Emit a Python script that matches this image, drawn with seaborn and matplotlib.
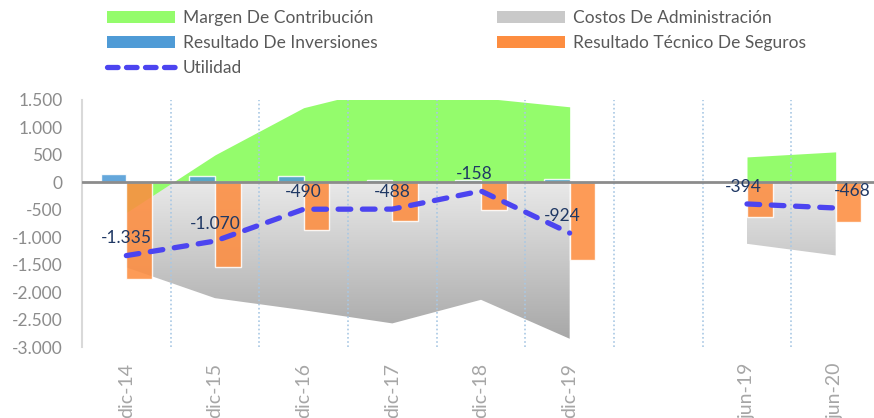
import numpy as np
import pandas as pd
import matplotlib
matplotlib.use("Agg")
import matplotlib.pyplot as plt
import seaborn as sns
from matplotlib.patches import Patch
from matplotlib.lines import Line2D
from matplotlib.ticker import FuncFormatter, FixedLocator
from matplotlib.colors import LinearSegmentedColormap

# ---------------- data ----------------
categories = ['dic-14', 'dic-15', 'dic-16', 'dic-17', 'dic-18', 'dic-19', '', 'jun-19', 'jun-20']
margen = [-550, 500, 1360, 1760, 1540, 1376, np.nan, 463, 555]
costos = [-1550, -2110, -2330, -2570, -2140, -2850, np.nan, -1120, -1332]
inversiones = [150, 110, 110, 50, 50, 65, np.nan, 0, 0]
tecnico = [-1757, -1544, -869, -705, -498, -1411, np.nan, -632, -730]
utilidad = [-1335, -1070, -490, -488, -158, -924, np.nan, -394, -468]
yticks = [-3000, -2500, -2000, -1500, -1000, -500, 0, 500, 1000, 1500]

names = ['Margen De Contribución', 'Costos De Administración', 'Resultado De Inversiones',
         'Resultado Técnico De Seguros', 'Utilidad']

# ---------------- style ----------------
sns.set_theme(style="white")
plt.rcParams['font.family'] = ['Lato', 'DejaVu Sans']

GREEN = '#94fc6c'
BLUE = '#4f9bd6'
ORANGE = '#fd8d40'
LINE = '#4c44f0'
LABEL = '#1f3864'

fig = plt.figure(figsize=(8.74, 4.18), dpi=100)
ax = fig.add_axes([82 / 874, (418 - 347) / 418, 798 / 874, (347 - 100) / 418])

x = np.arange(len(categories))
segments = [(0, 6), (7, 9)]

# gray gradient area (Costos)
cmap = LinearSegmentedColormap.from_list('g', ['#e9e9e9', '#a4a4a4'])
grad = np.linspace(0, 1, 256).reshape(-1, 1)
for a, b in segments:
    xs = x[a:b]
    ys = np.array(costos[a:b], dtype=float)
    poly = ax.fill_between(xs, 0, ys, color='none', lw=0)
    path = poly.get_paths()[0]
    im = ax.imshow(grad, extent=[-0.5, 8.5, -3000, 0], aspect='auto', cmap=cmap,
                   origin='upper', zorder=1)
    im.set_clip_path(path, transform=ax.transData)

# green area (Margen)
for a, b in segments:
    ax.fill_between(x[a:b], 0, np.array(margen[a:b], dtype=float), color=GREEN, lw=0, zorder=2)

# separators
for bnd in np.arange(0.5, 8.5, 1.0):
    ax.axvline(bnd, color='#a9c8e4', ls=(0, (1, 1.5)), lw=1.2, zorder=2.5)

# bars
df = pd.DataFrame({
    'pos': np.concatenate([x, x]),
    'valor': np.concatenate([inversiones, tecnico]),
    'serie': ['inv'] * len(x) + ['tec'] * len(x),
}).dropna()
sns.barplot(data=df, x='pos', y='valor', hue='serie', hue_order=['inv', 'tec'],
            palette=[BLUE, ORANGE], width=0.58, native_scale=True, errorbar=None,
            legend=False, saturation=1, alpha=0.88, ax=ax, zorder=3)

ax.axhline(0, color='#8c8c8c', lw=2, zorder=3.5)

# line (Utilidad)
for a, b in segments:
    seg = pd.DataFrame({'pos': x[a:b], 'val': utilidad[a:b]})
    sns.lineplot(data=seg, x='pos', y='val', ax=ax, color=LINE, lw=3.8,
                 linestyle=(0, (2.4, 2.2)), dash_capstyle='round', zorder=4)

label_dx = [0, 0, 0, 0, -5, -5, 0, -3, 12]
for i, v in enumerate(utilidad):
    if np.isnan(v):
        continue
    ax.annotate(f"{int(v):,}".replace(',', '.'), (i, v), xytext=(label_dx[i], 12.5),
                textcoords='offset points', ha='center', va='center',
                fontsize=12.5, color=LABEL, zorder=5)

# axes
ax.set_xlim(-0.5, 8.5)
ax.set_ylim(-3000, 1500)
ax.yaxis.set_major_locator(FixedLocator(yticks))
ax.yaxis.set_major_formatter(FuncFormatter(lambda v, p: f"{int(v):,}".replace(',', '.')))
ax.set_xticks(x)
ax.set_xticklabels(categories, rotation=90)
ax.set_xlabel('')
ax.set_ylabel('')
ax.tick_params(axis='y', length=0, pad=14, labelsize=12.5, labelcolor='#8c8c8c')
ax.tick_params(axis='x', length=0, pad=11.5, labelsize=14, labelcolor='#a6a6a6')
for s in ['top', 'right', 'bottom']:
    ax.spines[s].set_visible(False)
ax.spines['left'].set_color('#d9d9d9')
ax.spines['left'].set_linewidth(1.5)
ax.grid(False)

# legend
h_m = Patch(facecolor=GREEN, edgecolor='none')
h_c = Patch(facecolor='#c9c9c9', edgecolor='none')
h_i = Patch(facecolor=BLUE, edgecolor='none')
h_t = Patch(facecolor=ORANGE, edgecolor='none')
h_u = Line2D([], [], color=LINE, lw=3.8, linestyle=(0, (2.0, 1.6)), dash_capstyle='round')
common = dict(frameon=False, fontsize=12.5, handlelength=3.9, handleheight=0.7,
              handletextpad=0.45, labelspacing=0.52, borderpad=0, borderaxespad=0,
              loc='upper left', labelcolor='#595959')
leg1 = fig.legend([h_m, h_i, h_u], [names[0], names[2], names[4]],
                  bbox_to_anchor=(107 / 874, 1 - 10 / 418), **common)
leg2 = fig.legend([h_c, h_t], [names[1], names[3]],
                  bbox_to_anchor=(497 / 874, 1 - 10 / 418), **common)

fig.savefig('out.png', dpi=100)
